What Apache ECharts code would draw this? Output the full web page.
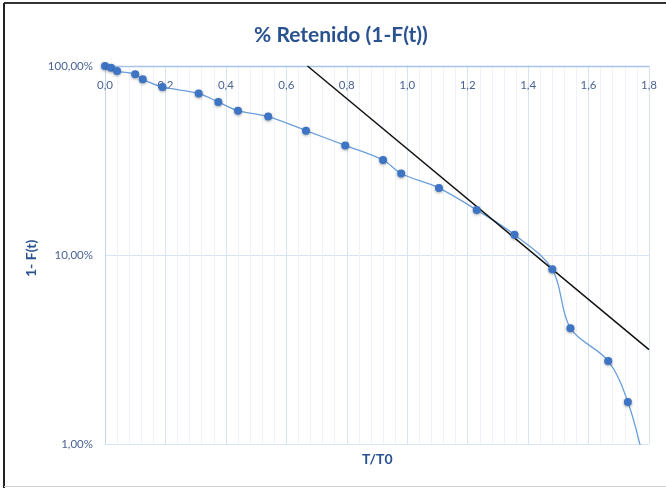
<!DOCTYPE html>
<html>
<head>
<meta charset="utf-8">
<script src="https://cdn.jsdelivr.net/npm/echarts@6/dist/echarts.min.js"></script>
<style>
html,body{margin:0;padding:0;background:#fff;}
#c{width:666px;height:488px;}
</style>
</head>
<body>
<div id="c"></div>
<script>
// T/T0 values
var tRatio = [0, 0.02, 0.04, 0.10, 0.125, 0.19, 0.31, 0.375, 0.44, 0.54, 0.665, 0.795, 0.92, 0.98, 1.105, 1.23, 1.355, 1.48, 1.54, 1.665, 1.73, 1.78];
// 1 - F(t) in percent
var retained = [100, 98, 94, 90.5, 85, 77.5, 71.5, 64.5, 58, 54, 45.5, 38, 31.8, 27, 22.6, 17.3, 12.8, 8.4, 4.1, 2.75, 1.67, 0.85];
// tangent (trend) line endpoints
var trendX = [0.67, 1.8];
var trendY = [100, 3.16];
var xTicks = ['0,0','0,2','0,4','0,6','0,8','1,0','1,2','1,4','1,6','1,8'];
var yTicks = {1: '1,00%', 10: '10,00%', 100: '100,00%'};

var mainData = tRatio.map(function(x, i){ return [x, retained[i]]; });
var trendData = trendX.map(function(x, i){ return [x, trendY[i]]; });

var FONT = 'Lato';
var chart = echarts.init(document.getElementById('c'));
chart.setOption({
  animation: false,
  backgroundColor: '#fff',
  textStyle: {fontFamily: FONT},
  title: {
    text: '% Retenido (1-F(t))',
    left: 336, top: 20, textAlign: 'center',
    textStyle: {fontFamily: FONT, fontWeight: 'bold', fontSize: 21, color: '#2A5290'}
  },
  grid: {left: 105, right: 17, top: 66, bottom: 44},
  xAxis: [
    {
      type: 'value', position: 'bottom', min: 0, max: 1.8, interval: 0.04,
      axisLine: {show: false}, axisTick: {show: false}, axisLabel: {show: false},
      splitLine: {show: true, lineStyle: {color: '#EEF3FA', width: 1}},
      z: 0
    },
    {
      type: 'value', position: 'top', min: 0, max: 1.8, interval: 0.2,
      axisLine: {show: true, lineStyle: {color: '#A9C3E6', width: 1.3}},
      axisTick: {show: false},
      axisLabel: {
        inside: true, margin: 13, color: '#4A6391', fontSize: 11.5, fontFamily: FONT,
        formatter: function(v){ return xTicks[Math.round(v / 0.2)]; }
      },
      splitLine: {show: true, showMaxLine: true, lineStyle: {color: '#D7E4F5', width: 1}}
    }
  ],
  yAxis: {
    type: 'log', logBase: 10, min: 1, max: 100,
    axisLine: {show: true, lineStyle: {color: '#C3D5EE', width: 1}},
    axisTick: {show: false},
    axisLabel: {
      margin: 12, color: '#4A6391', fontSize: 11.5, fontFamily: FONT,
      formatter: function(v){ return yTicks[Math.round(v)] || ''; }
    },
    splitLine: {show: true, lineStyle: {color: '#D7E4F5', width: 1}}
  },
  series: [
    {
      type: 'line', xAxisIndex: 1, data: mainData, smooth: 0.35, clip: true,
      symbol: 'circle', symbolSize: 8,
      lineStyle: {color: '#6A9FDB', width: 1.3},
      itemStyle: {color: '#3D74C4', shadowBlur: 3, shadowColor: 'rgba(0,0,0,0.35)', shadowOffsetY: 1}
    },
    {
      type: 'line', xAxisIndex: 1, data: trendData, symbol: 'none', clip: true,
      lineStyle: {color: '#111', width: 1.5}
    }
  ],
  graphic: [
    {type: 'text', left: 362, top: 452, style: {text: 'T/T0', fontFamily: FONT, fontWeight: 'bold', fontSize: 14, fill: '#2A5290'}},
    {type: 'text', x: 24, y: 277, rotation: Math.PI / 2, style: {text: '1- F(t)', fontFamily: FONT, fontWeight: 'bold', fontSize: 14, fill: '#2A5290'}},
    {type: 'line', shape: {x1: 4, y1: 3, x2: 666, y2: 3}, style: {stroke: '#333', lineWidth: 2}},
    {type: 'line', shape: {x1: 4, y1: 3, x2: 4, y2: 488}, style: {stroke: '#222', lineWidth: 2}},
    {type: 'line', shape: {x1: 4, y1: 486.5, x2: 666, y2: 486.5}, style: {stroke: '#d0d0d0', lineWidth: 1}}
  ]
});
</script>
</body>
</html>
